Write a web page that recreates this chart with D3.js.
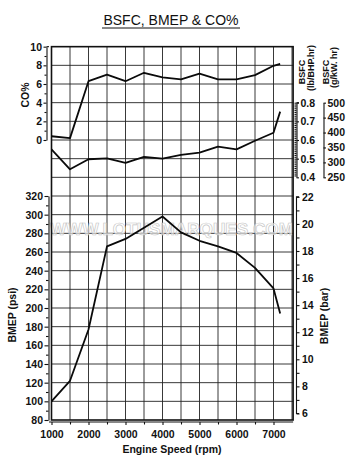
<!DOCTYPE html>
<html>
<head>
<meta charset="utf-8">
<script src="https://cdn.jsdelivr.net/npm/d3@7"></script>
<style>
  html, body { margin: 0; padding: 0; background: #fff; }
  svg { display: block; }
  text { font-family: "Liberation Sans", Arial, sans-serif; fill: #111; }
  .tick text { font-weight: bold; font-size: 10.5px; }
  .axis path, .axis line { stroke: #111; stroke-width: 1.1; }
</style>
</head>
<body>
<svg id="chart" width="350" height="463"></svg>
<script>
// Engine speed sample points (rpm)
const rpm = [1000, 1500, 2000, 2500, 3000, 3500, 4000, 4500, 5000, 5500, 6000, 6500, 7000, 7180];

// CO % in the exhaust
const coPct = [0.4, 0.2, 6.3, 7.0, 6.3, 7.2, 6.7, 6.5, 7.1, 6.5, 6.5, 6.95, 7.95, 8.15];

// Brake specific fuel consumption, lb/BHP.hr
const bsfc = [0.55, 0.443, 0.497, 0.502, 0.478, 0.51, 0.50, 0.52, 0.532, 0.564, 0.55, 0.596, 0.639, 0.752];

// Brake mean effective pressure, psi
const bmep = [100, 122, 177, 266, 274, 286, 298, 281, 272, 266, 259, 243, 221, 194];

// Axis tick values
const rpmTicks = [1000, 2000, 3000, 4000, 5000, 6000, 7000];
const coTicks = [0, 2, 4, 6, 8, 10];
const bsfcTicks = [0.4, 0.5, 0.6, 0.7, 0.8];
const gkwTicks = [250, 300, 350, 400, 450, 500];
const psiTicks = [80, 100, 120, 140, 160, 180, 200, 220, 240, 260, 280, 300, 320];
const barTicks = [6, 8, 10, 12, 14, 16, 18, 20, 22];

const PSI_PER_BAR = 14.5038;

const svg = d3.select("#chart");

// Scales
const x = d3.scaleLinear().domain([1000, 7000]).range([51.5, 273.5]);
const xMax = 7530;
const yPsi = d3.scaleLinear().domain([80, 320]).range([420, 196]);
const yBar = d3.scaleLinear().domain([80 / PSI_PER_BAR, 320 / PSI_PER_BAR]).range([420, 196]);
const gridStep = yPsi(80) - yPsi(100);
const yCO = d3.scaleLinear().domain([0, 10]).range([yPsi(320) - 3 * gridStep, yPsi(320) - 8 * gridStep]);
const yBsfc = d3.scaleLinear().domain([0.4, 0.8]).range([yPsi(320) - 1 * gridStep, yPsi(320) - 5 * gridStep]);
const yGkw = d3.scaleLinear().domain([250, 500]).range(yBsfc.range());

const frameTop = yPsi(320) - 8 * gridStep;
const frameBottom = yPsi(80);
const frameLeft = x(1000);
const frameRight = x(xMax);

// Title
svg.append("text")
  .attr("x", 171).attr("y", 25)
  .attr("text-anchor", "middle")
  .style("font-size", "14px")
  .text("BSFC, BMEP & CO%");
svg.append("line")
  .attr("x1", 102).attr("x2", 240).attr("y1", 28).attr("y2", 28)
  .attr("stroke", "#111").attr("stroke-width", 1);

// Grid
const grid = svg.append("g").attr("stroke", "#222").attr("stroke-width", 0.9);
d3.range(1500, xMax, 500).forEach(v => {
  grid.append("line").attr("x1", x(v)).attr("x2", x(v))
    .attr("y1", frameTop).attr("y2", frameBottom);
});
d3.range(100, 480, 20).forEach(v => {
  grid.append("line").attr("x1", frameLeft).attr("x2", frameRight)
    .attr("y1", yPsi(v)).attr("y2", yPsi(v));
});

// Watermark
svg.append("text")
  .attr("x", 50).attr("y", 235)
  .attr("textLength", 243).attr("lengthAdjust", "spacingAndGlyphs")
  .style("font-size", "16px").style("font-weight", "bold")
  .style("fill", "rgba(255,255,255,0.6)")
  .style("stroke", "#c4c4c4").style("stroke-width", 0.6)
  .text("WWW.LOTUSMARQUES.COM");

// Frame
svg.append("rect")
  .attr("x", frameLeft).attr("y", frameTop)
  .attr("width", frameRight - frameLeft).attr("height", frameBottom - frameTop)
  .attr("fill", "none").attr("stroke", "#111").attr("stroke-width", 1.6);

// Data lines
const line = (yScale, vals) => d3.line()
  .x((d, i) => x(rpm[i]))
  .y(d => yScale(d))(vals);

const lines = svg.append("g").attr("fill", "none").attr("stroke", "#0a0a0a")
  .attr("stroke-width", 1.8).attr("stroke-linejoin", "round");
lines.append("path").attr("d", line(yCO, coPct));
lines.append("path").attr("d", line(yBsfc, bsfc));
lines.append("path").attr("d", line(yPsi, bmep));

// Helper: draw an axis with minor ticks
function addAxis(axisFn, scale, tx, ty, major, minor, tickLen, pad, minorLen, fmt) {
  const g = svg.append("g").attr("class", "axis").attr("transform", `translate(${tx},${ty})`);
  g.call(axisFn(scale).tickValues(minor).tickSize(minorLen).tickSizeOuter(0).tickFormat(""));
  const g2 = svg.append("g").attr("class", "axis").attr("transform", `translate(${tx},${ty})`);
  g2.call(axisFn(scale).tickValues(major).tickSize(tickLen).tickSizeOuter(0).tickPadding(pad).tickFormat(fmt));
  g2.select(".domain").remove();
  return g;
}

// Left: CO %
addAxis(d3.axisLeft, yCO, 46.5, 0, coTicks, [1, 3, 5, 7, 9], 3, 1.5, 2, d3.format("d"));
svg.append("line").attr("x1", 46.5).attr("x2", 49).attr("y1", yCO(10)).attr("y2", yCO(10))
  .attr("stroke", "#111").attr("stroke-width", 1.1);

// Left: BMEP psi
addAxis(d3.axisLeft, yPsi, 48.5, 0, psiTicks, d3.range(90, 320, 20), 4, 1.5, 2.5, d3.format("d"));

// Bottom: engine speed
addAxis(d3.axisBottom, x, 0, 422, rpmTicks, d3.range(1500, 7500, 1000), 3, 5.5, 2.5, d3.format("d"))
  .select(".domain").attr("d", `M49,0H${frameRight}`);

// Right: BSFC lb/BHP.hr
addAxis(d3.axisRight, yBsfc, 296.5, 0, bsfcTicks, d3.range(0.41, 0.8, 0.01), 2.5, 1.5, -2, d3.format(".1f"));
svg.append("line").attr("x1", 296.5).attr("x2", 299).attr("y1", yBsfc(0.8)).attr("y2", yBsfc(0.8))
  .attr("stroke", "#111").attr("stroke-width", 1.1);

// Right: BSFC g/kW.hr
addAxis(d3.axisRight, yGkw, 323.5, 0, gkwTicks, [], 2.5, 1.5, 0, d3.format("d"));

// Right: BMEP bar
addAxis(d3.axisRight, yBar, 296.5, 0, barTicks, d3.range(7, 22, 2), 3, 2.5, 3, d3.format("d"))
  .select(".domain").attr("d", `M2.5,${yBar(22)}H0V${yBar(6)}H2.5`);

// Axis titles
const title = (tx, ty, txt, size) => svg.append("text")
  .attr("transform", `translate(${tx},${ty}) rotate(-90)`)
  .attr("text-anchor", "middle")
  .style("font-size", (size || 10.5) + "px").style("font-weight", "bold")
  .text(txt);

title(29, 95, "CO%");
title(15.5, 315, "BMEP (psi)");
title(328, 316, "BMEP (bar)");
title(305, 72, "BSFC", 9);
title(314, 68, "(lb/BHP.hr)", 9);
title(328.5, 72, "BSFC", 9);
title(337, 67.5, "(g/kW. hr)", 9);

svg.append("text")
  .attr("x", 172).attr("y", 453)
  .attr("text-anchor", "middle")
  .style("font-size", "10.5px").style("font-weight", "bold")
  .text("Engine Speed  (rpm)");
</script>
</body>
</html>
